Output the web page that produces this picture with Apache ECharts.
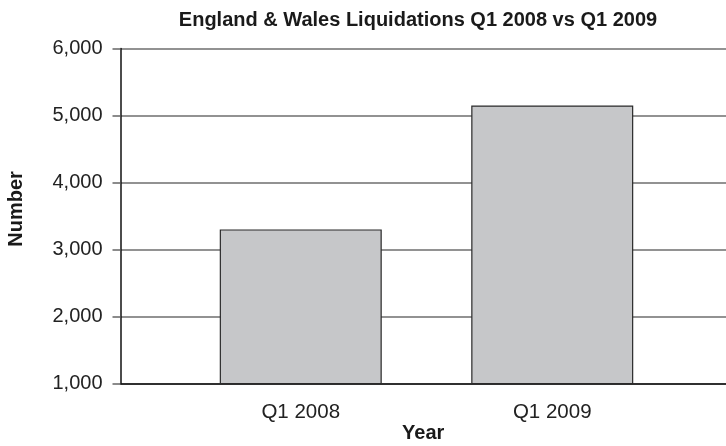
<!DOCTYPE html>
<html>
<head>
<meta charset="utf-8">
<script src="https://cdn.jsdelivr.net/npm/echarts@6/dist/echarts.min.js"></script>
<style>
  html, body { margin: 0; padding: 0; background: #fff; }
  #chart { width: 726px; height: 446px; }
</style>
</head>
<body>
<div id="chart"></div>
<script>
// Quarterly liquidations, England & Wales
const categories = ['Q1 2008', 'Q1 2009'];
const liquidations = [3300, 5150];
const yTicks = [1000, 2000, 3000, 4000, 5000, 6000];

const FONT = '"Liberation Sans", Arial, Helvetica, sans-serif';
const fmt = v => String(v).replace(/\B(?=(\d{3})+(?!\d))/g, ',');

const chart = echarts.init(document.getElementById('chart'), null, { renderer: 'canvas' });

const yMin = yTicks[0];
const yMax = yTicks[yTicks.length - 1];
const yStep = yTicks[1] - yTicks[0];

chart.setOption({
  animation: false,
  backgroundColor: '#ffffff',
  title: {
    text: 'England & Wales Liquidations Q1 2008 vs Q1 2009',
    left: 413,
    textAlign: 'center',
    top: 5,
    textStyle: { fontFamily: FONT, fontSize: 20, fontWeight: 'bold', color: '#1a1a1a' }
  },
  grid: [
    // frame grid: value axis, gridlines and the baseline
    { left: 120.5, right: 0, top: 48.5, bottom: 62.5, containLabel: false, outerBoundsMode: 'none' },
    // bar grid: category bands for the two quarters
    { left: 175, width: 503, top: 48.5, bottom: 62.5, containLabel: false, outerBoundsMode: 'none' }
  ],
  xAxis: [
    {
      gridIndex: 0, type: 'value', min: 0, max: 1,
      axisLine: { show: true, onZero: false, lineStyle: { color: '#111', width: 1.5 } },
      axisTick: { show: false }, axisLabel: { show: false }, splitLine: { show: false },
      name: 'Year', nameLocation: 'middle', nameGap: 40,
      nameTextStyle: { fontFamily: FONT, fontSize: 20, fontWeight: 'bold', color: '#1a1a1a' }
    },
    {
      gridIndex: 1, type: 'category', data: categories,
      axisLine: { show: false }, axisTick: { show: false },
      axisLabel: { fontFamily: FONT, fontSize: 20.5, color: '#222', margin: 18 }
    }
  ],
  yAxis: [
    {
      gridIndex: 0, type: 'value', min: yMin, max: yMax, interval: yStep,
      axisLine: { show: true, lineStyle: { color: '#111', width: 1.5 } },
      axisTick: { show: true, length: 8, lineStyle: { color: '#666', width: 1.5 } },
      axisLabel: { fontFamily: FONT, fontSize: 20, color: '#222', margin: 18, formatter: fmt },
      splitLine: { show: true, lineStyle: { color: '#6e6e6e', width: 1.5 } },
      name: 'Number', nameLocation: 'middle', nameGap: 94, nameRotate: 90,
      nameTextStyle: { fontFamily: FONT, fontSize: 20, fontWeight: 'bold', color: '#1a1a1a', padding: [0, 0, 0, 14] }
    },
    {
      gridIndex: 1, type: 'value', min: yMin, max: yMax, interval: yStep,
      show: false, splitLine: { show: false }
    }
  ],
  series: [{
    type: 'bar',
    xAxisIndex: 1, yAxisIndex: 1,
    data: liquidations,
    barWidth: 162,
    itemStyle: { color: '#c6c7c9', borderColor: '#2a2a2a', borderWidth: 1.2 }
  }]
});
</script>
</body>
</html>
